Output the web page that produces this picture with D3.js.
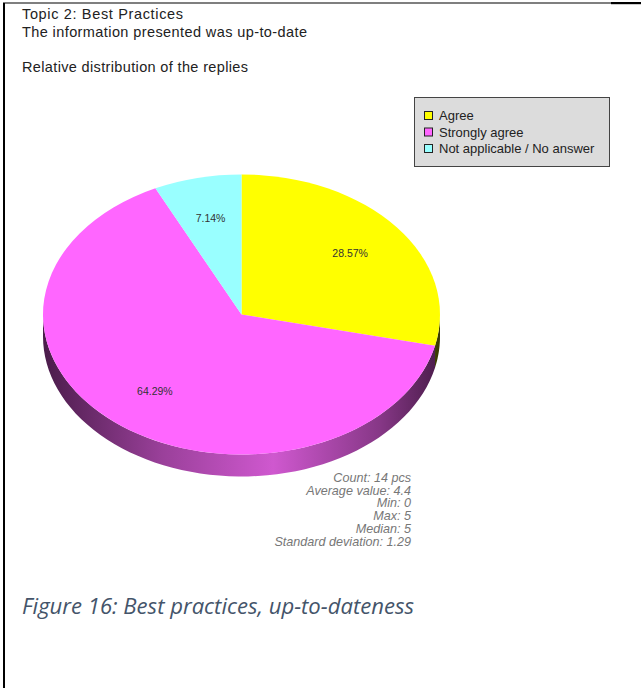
<!DOCTYPE html>
<html><head><meta charset="utf-8">
<script src="https://cdn.jsdelivr.net/npm/d3@7"></script>
<style>body{margin:0;background:#fff}svg{display:block}</style>
</head><body>
<script>
const categories = ["Agree", "Strongly agree", "Not applicable / No answer"];
const values = [28.57, 64.29, 7.14];
const labels = ["28.57%", "64.29%", "7.14%"];
const colors = ["#ffff00", "#ff66ff", "#99ffff"];
const sideColors = [["#3a3a00", "#6a6a00"], ["#4a1c4a", "#cf58cf"], ["#2a6a6a", "#66bbbb"]];
const titleLines = ["Topic 2: Best Practices", "The information presented was up-to-date", "", "Relative distribution of the replies"];
const titleWidths = [161, 285, 0, 226];
const stats = ["Count: 14 pcs", "Average value: 4.4", "Min: 0", "Max: 5", "Median: 5", "Standard deviation: 1.29"];
const caption = "Figure 16: Best practices, up-to-dateness";

const W = 641, H = 688;
const svg = d3.select("body").append("svg").attr("width", W).attr("height", H);
const defs = svg.append("defs");

// page border
svg.append("rect").attr("x", 3).attr("y", 3).attr("width", 2).attr("height", H).attr("fill", "#000");
svg.append("rect").attr("x", 3).attr("y", 2.5).attr("width", 608).attr("height", 1).attr("fill", "#000");
svg.append("rect").attr("x", 611).attr("y", 2).attr("width", 30).attr("height", 2.2).attr("fill", "#000");

// titles
const tf = "Liberation Sans, Arial, sans-serif";
titleLines.forEach((t, i) => {
  if (!t) return;
  svg.append("text").attr("x", 22).attr("y", 19 + i * 17.6)
    .attr("font-family", tf).attr("font-size", 14.5).attr("fill", "#222")
    .attr("textLength", titleWidths[i]).attr("lengthAdjust", "spacing").text(t);
});

// pie
const cx = 241.5, cy = 314.5, rx = 198.5, ry = 140, depth = 22;
const pieData = d3.pie().sort(null).value(d => d)(values);

// side walls (front half only)
const ex = a => cx + rx * Math.sin(a), ey = a => cy - ry * Math.cos(a);
const gradX0 = cx - rx, gradX1 = cx + rx;
sideColors.forEach((c, i) => {
  const g = defs.append("linearGradient").attr("id", "side" + i).attr("gradientUnits", "userSpaceOnUse")
    .attr("x1", gradX0).attr("x2", gradX1).attr("y1", 0).attr("y2", 0);
  [[0, c[0]], [0.3, d3.interpolateRgb(c[0], c[1])(0.6)], [0.58, c[1]], [0.85, d3.interpolateRgb(c[0], c[1])(0.45)], [1, c[0]]]
    .forEach(s => g.append("stop").attr("offset", s[0]).attr("stop-color", s[1]));
});
const sideLine = d3.line();
pieData.forEach((p, i) => {
  const a0 = Math.max(p.startAngle, Math.PI / 2), a1 = Math.min(p.endAngle, 3 * Math.PI / 2);
  if (a1 <= a0) return;
  const n = 60, pts = [];
  for (let k = 0; k <= n; k++) { const a = a0 + (a1 - a0) * k / n; pts.push([ex(a), ey(a)]); }
  for (let k = n; k >= 0; k--) { const a = a0 + (a1 - a0) * k / n; pts.push([ex(a), ey(a) + depth]); }
  svg.append("path").attr("d", sideLine(pts) + "Z").attr("fill", "url(#side" + i + ")");
});

// top face
const arcGen = d3.arc().innerRadius(0).outerRadius(rx);
const topFace = svg.append("g").attr("transform", `translate(${cx},${cy}) scale(1,${ry / rx})`);
topFace.selectAll("path").data(pieData).enter().append("path")
  .attr("d", arcGen).attr("fill", (d, i) => colors[i]);

// slice labels
svg.selectAll("text.lbl").data(pieData).enter().append("text")
  .attr("x", d => { const m = (d.startAngle + d.endAngle) / 2; return cx + 0.7 * rx * Math.sin(m); })
  .attr("y", d => { const m = (d.startAngle + d.endAngle) / 2; return cy - 0.7 * ry * Math.cos(m) + 3.5; })
  .attr("text-anchor", "middle").attr("font-family", tf).attr("font-size", 10.5)
  .attr("fill", "#333").text((d, i) => labels[i]);

// legend
const lg = svg.append("g");
lg.append("rect").attr("x", 414.5).attr("y", 97.5).attr("width", 195).attr("height", 69)
  .attr("fill", "#dcdcdc").attr("stroke", "#444").attr("stroke-width", 1);
defs.append("clipPath").attr("id", "lgclip").append("rect").attr("x", 414).attr("y", 97).attr("width", 181.5).attr("height", 70);
const items = lg.append("g").attr("clip-path", "url(#lgclip)");
categories.forEach((c, i) => {
  const y = 111 + i * 16.5;
  items.append("rect").attr("x", 424.5).attr("y", y + 0.5).attr("width", 8).attr("height", 8)
    .attr("fill", colors[i]).attr("stroke", "#222").attr("stroke-width", 1);
  items.append("text").attr("x", 439).attr("y", y + 9).attr("font-family", tf).attr("font-size", 13)
    .attr("fill", "#222").text(c);
});

// stats
svg.selectAll("text.stat").data(stats).enter().append("text")
  .attr("x", 411).attr("y", (d, i) => 482 + i * 12.7).attr("text-anchor", "end")
  .attr("font-family", tf).attr("font-size", 12.6).attr("font-style", "italic")
  .attr("fill", "#777").text(d => d);

// caption
svg.append("text").attr("x", 22).attr("y", 614).attr("font-family", "Open Sans, sans-serif")
  .attr("font-size", 21).attr("font-style", "italic").attr("fill", "#44546a")
  .attr("textLength", 392).attr("lengthAdjust", "spacingAndGlyphs").text(caption);
</script>
</body></html>
